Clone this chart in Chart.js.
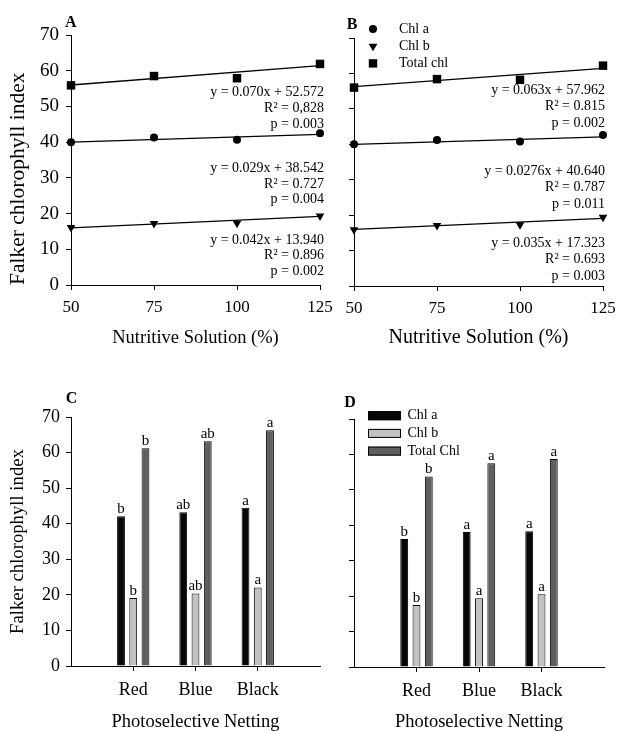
<!DOCTYPE html>
<html>
<head>
<meta charset="utf-8">
<title>Falker chlorophyll index</title>
<script src="https://cdn.jsdelivr.net/npm/chart.js"></script>
<style>
  html, body { margin: 0; padding: 0; background: #fff; overflow: hidden; }
  .figure { position: relative; width: 617px; height: 731px; overflow: hidden; }
  .figure canvas { position: absolute; }
  #chartA { left: 0; top: 0; }
  #chartB { left: 330px; top: 0; }
  #chartC { left: 0; top: 365px; }
  #chartD { left: 330px; top: 365px; }
</style>
</head>
<body>
<div class="figure">
  <canvas id="chartA" width="345" height="365"></canvas>
  <canvas id="chartB" width="287" height="365"></canvas>
  <canvas id="chartC" width="345" height="380"></canvas>
  <canvas id="chartD" width="287" height="380"></canvas>
</div>
<script>
// nutritive solution levels (%) and the ends of the fitted lines
const nutrientLevels = [50, 75, 100, 125];
const trendEnds = [50, 125];

// panel A
const aChlA = [40.0, 41.3, 40.7, 42.5];
const aChlB = [16.1, 17.2, 17.3, 19.3];
const aTotal = [55.9, 58.5, 57.9, 61.9];
const aTrendChlA = [40.0, 42.2];
const aTrendChlB = [16.0, 19.2];
const aTrendTotal = [56.0, 61.4];
const aNoteTotal = ['y = 0.070x + 52.572', 'R² = 0,828', 'p = 0.003'];
const aNoteChlA = ['y = 0.029x + 38.542', 'R² = 0.727', 'p = 0.004'];
const aNoteChlB = ['y = 0.042x + 13.940', 'R² = 0.896', 'p = 0.002'];

// panel B
const bChlA = [40.0, 41.2, 40.8, 42.6];
const bChlB = [15.9, 17.1, 17.3, 19.4];
const bTotal = [56.0, 58.4, 58.2, 62.2];
const bTrendChlA = [40.0, 42.1];
const bTrendChlB = [16.0, 19.1];
const bTrendTotal = [56.3, 61.4];
const bNoteTotal = ['y = 0.063x + 57.962', 'R² = 0.815', 'p = 0.002'];
const bNoteChlA = ['y = 0.0276x + 40.640', 'R² = 0.787', 'p = 0.011'];
const bNoteChlB = ['y = 0.035x + 17.323', 'R² = 0.693', 'p = 0.003'];

// panels C and D
const nets = ['Red', 'Blue', 'Black'];
const cChlA = [42.1, 43.2, 44.5];
const cChlB = [19.1, 20.4, 22.1];
const cTotal = [61.2, 63.2, 66.3];
const cLetters = [['b', 'ab', 'a'], ['b', 'ab', 'a'], ['b', 'ab', 'a']];
const dChlA = [36.1, 38.1, 38.3];
const dChlB = [17.5, 19.4, 20.5];
const dTotal = [53.8, 57.5, 58.7];
const dLetters = [['b', 'a', 'a'], ['b', 'a', 'a'], ['b', 'a', 'a']];

const yMin = 0, yMax = 70, yStep = 10;

const serif = "'Liberation Serif', 'Times New Roman', serif";
Chart.defaults.font.family = serif;
Chart.defaults.color = '#000';
Chart.defaults.animation = false;
Chart.defaults.plugins.legend.display = false;
Chart.defaults.plugins.tooltip.enabled = false;

const xy = (xs, ys) => xs.map((x, i) => ({ x: x, y: ys[i] }));
const pad = arr => [null, ...arr, null];
const axisLine = () => ({ display: true, color: '#000', width: 1 });
const tickMarks = (hideEnds) => ({
    drawOnChartArea: false,
    drawTicks: true,
    tickLength: 5,
    lineWidth: 1,
    offset: false,
    color: hideEnds ? (c => (c.index === 0 || c.index === 4) ? 'rgba(0,0,0,0)' : '#000') : '#000'
});
const fixWidth = w => s => { s.width = w; s.paddingTop = 0; s.paddingBottom = 0; };
const fixHeight = h => s => { s.height = h; s.paddingLeft = 0; s.paddingRight = 0; };

// panel letters, regression notes, bar letters and the small legends
const decor = {
    id: 'decor',
    afterDraw(chart, args, opts) {
        const ctx = chart.ctx;
        const area = chart.chartArea;
        ctx.save();
        ctx.fillStyle = '#000';
        ctx.strokeStyle = '#000';

        if (opts.letter) {
            ctx.font = 'bold 16px ' + serif;
            ctx.textAlign = 'left';
            ctx.textBaseline = 'middle';
            ctx.fillText(opts.letter, area.left + opts.letterDx, area.top + opts.letterDy);
        }

        if (opts.notes) {
            ctx.font = '14px ' + serif;
            ctx.textAlign = 'right';
            ctx.textBaseline = 'middle';
            opts.notes.forEach(note => {
                const y0 = chart.scales.y.getPixelForValue(note.at);
                note.lines.forEach((line, k) => {
                    ctx.fillText(line, area.right + opts.noteDx, y0 + k * opts.noteGap);
                });
            });
        }

        if (opts.barLetters) {
            ctx.font = '15px ' + serif;
            ctx.textAlign = 'center';
            ctx.textBaseline = 'alphabetic';
            opts.barLetters.forEach((letters, i) => {
                const bars = chart.getDatasetMeta(i).data;
                letters.forEach((txt, j) => {
                    const bar = bars[j + 1];
                    if (bar) ctx.fillText(txt, bar.x, bar.y - 3);
                });
            });
        }

        if (opts.legend) {
            const lg = opts.legend;
            ctx.font = '14px ' + serif;
            ctx.textAlign = 'left';
            ctx.textBaseline = 'middle';
            lg.items.forEach((di, k) => {
                const ds = chart.data.datasets[di];
                const y = area.top + lg.dy + k * lg.gap;
                const x = area.left + lg.dx;
                if (lg.kind === 'point') {
                    ctx.beginPath();
                    if (ds.pointStyle === 'circle') {
                        ctx.arc(x, y, 4, 0, Math.PI * 2);
                    } else if (ds.pointStyle === 'triangle') {
                        ctx.moveTo(x, y + 5);
                        ctx.lineTo(x - 4.4, y - 2.5);
                        ctx.lineTo(x + 4.4, y - 2.5);
                        ctx.closePath();
                    } else {
                        ctx.rect(x - 4.2, y - 4.2, 8.4, 8.4);
                    }
                    ctx.fill();
                } else {
                    ctx.fillStyle = ds.backgroundColor;
                    ctx.fillRect(x, y - 4.5, lg.boxW, 9);
                    ctx.lineWidth = 1;
                    ctx.strokeRect(x + 0.5, y - 4, lg.boxW - 1, 8);
                    ctx.fillStyle = '#000';
                }
                ctx.fillText(ds.label, area.left + lg.textDx, y);
            });
        }
        ctx.restore();
    }
};

function lineChart(id, pts, trends, o) {
    const marks = [
        { label: 'Chl a', data: xy(nutrientLevels, pts[0]), pointStyle: 'circle', pointRadius: 4 },
        { label: 'Chl b', data: xy(nutrientLevels, pts[1]), pointStyle: 'triangle', pointRotation: 180, pointRadius: 5 },
        { label: 'Total chl', data: xy(nutrientLevels, pts[2]), pointStyle: 'rect', pointRadius: 6 }
    ].map(d => Object.assign(d, {
        showLine: false,
        pointBackgroundColor: '#000',
        pointBorderColor: '#000',
        pointBorderWidth: 0,
        clip: false
    }));
    const fits = trends.map((t, i) => ({
        label: marks[i].label + ' fit',
        data: xy(trendEnds, t),
        showLine: true,
        borderColor: '#000',
        borderWidth: 1.3,
        pointRadius: 0,
        fill: false,
        clip: false
    }));

    return new Chart(document.getElementById(id), {
        type: 'line',
        data: { datasets: marks.concat(fits) },
        options: {
            responsive: false,
            events: [],
            layout: { padding: o.pad },
            scales: {
                x: {
                    type: 'linear',
                    min: nutrientLevels[0],
                    max: nutrientLevels[nutrientLevels.length - 1],
                    ticks: { stepSize: 25, font: { size: 17 }, padding: 7 },
                    grid: tickMarks(false),
                    border: axisLine(),
                    title: { display: true, text: 'Nutritive Solution (%)', font: { size: o.xTitleSize }, padding: { top: 0, bottom: o.xTitlePad } },
                    afterFit: fixHeight(o.xHeight)
                },
                y: {
                    min: yMin,
                    max: yMax,
                    ticks: { stepSize: yStep, display: o.yLabels, font: { size: 19 }, padding: 7 },
                    grid: tickMarks(false),
                    border: axisLine(),
                    title: { display: o.yLabels, text: 'Falker chlorophyll index', align: 'start', font: { size: 21.5 }, padding: { top: 5.4, bottom: 0 } },
                    afterFit: fixWidth(o.yWidth)
                }
            },
            plugins: { decor: o.decor }
        },
        plugins: [decor]
    });
}

function barChart(id, vals, o) {
    const names = ['Chl a', 'Chl b', 'Total Chl'];
    const fills = ['#070707', '#c2c2c2', '#5f5f5f'];
    return new Chart(document.getElementById(id), {
        type: 'bar',
        data: {
            labels: pad(nets).map(v => v || ''),
            datasets: vals.map((v, i) => ({
                label: names[i],
                data: pad(v),
                backgroundColor: fills[i],
                borderColor: '#000',
                borderWidth: 1,
                categoryPercentage: 0.59,
                barPercentage: 0.64
            }))
        },
        options: {
            responsive: false,
            events: [],
            layout: { padding: o.pad },
            scales: {
                x: {
                    offset: false,
                    ticks: { font: { size: 18 }, padding: 8, autoSkip: false, maxRotation: 0 },
                    grid: tickMarks(true),
                    border: axisLine(),
                    title: { display: true, text: 'Photoselective Netting', font: { size: 18.5 }, padding: { top: 0, bottom: 12 } },
                    afterFit: fixHeight(o.xHeight)
                },
                y: {
                    min: yMin,
                    max: yMax,
                    ticks: { stepSize: yStep, display: o.yLabels, font: { size: 18 }, padding: 6 },
                    grid: tickMarks(false),
                    border: axisLine(),
                    title: { display: o.yLabels, text: 'Falker chlorophyll index', font: { size: 18.7 }, padding: { top: 7, bottom: 0 } },
                    afterFit: fixWidth(o.yWidth)
                }
            },
            plugins: { decor: o.decor }
        },
        plugins: [decor]
    });
}

lineChart('chartA', [aChlA, aChlB, aTotal], [aTrendChlA, aTrendChlB, aTrendTotal], {
    pad: { top: 35, right: 25, bottom: 0, left: 0 },
    xHeight: 80, yWidth: 71, yLabels: true,
    xTitleSize: 18.5, xTitlePad: 16,
    decor: {
        letter: 'A', letterDx: -6, letterDy: -12,
        noteDx: 4, noteGap: 15.8,
        notes: [
            { at: 53.9, lines: aNoteTotal },
            { at: 32.7, lines: aNoteChlA },
            { at: 12.6, lines: aNoteChlB }
        ]
    }
});

lineChart('chartB', [bChlA, bChlB, bTotal], [bTrendChlA, bTrendChlB, bTrendTotal], {
    pad: { top: 38, right: 14, bottom: 0, left: 0 },
    xHeight: 79, yWidth: 24, yLabels: false,
    xTitleSize: 20, xTitlePad: 15.5,
    decor: {
        letter: 'B', letterDx: -7.3, letterDy: -13,
        noteDx: 2, noteGap: 16.5,
        notes: [
            { at: 55.3, lines: bNoteTotal },
            { at: 32.5, lines: bNoteChlA },
            { at: 12.05, lines: bNoteChlB }
        ],
        legend: { kind: 'point', items: [0, 1, 2], dx: 19, dy: -9, gap: 17.2, textDx: 45 }
    }
});

barChart('chartC', [cChlA, cChlB, cTotal], {
    pad: { top: 52, right: 25, bottom: 0, left: 0 },
    xHeight: 79, yWidth: 71, yLabels: true,
    decor: { letter: 'C', letterDx: -5.3, letterDy: -17.7, barLetters: cLetters }
});

barChart('chartD', [dChlA, dChlB, dTotal], {
    pad: { top: 54, right: 13, bottom: 0, left: 0 },
    xHeight: 78, yWidth: 24, yLabels: false,
    decor: {
        letter: 'D', letterDx: -9.7, letterDy: -15.7, barLetters: dLetters,
        legend: { kind: 'box', items: [0, 1, 2], dx: 14, dy: -3.3, gap: 17.7, boxW: 33, textDx: 53.5 }
    }
});
</script>
</body>
</html>
